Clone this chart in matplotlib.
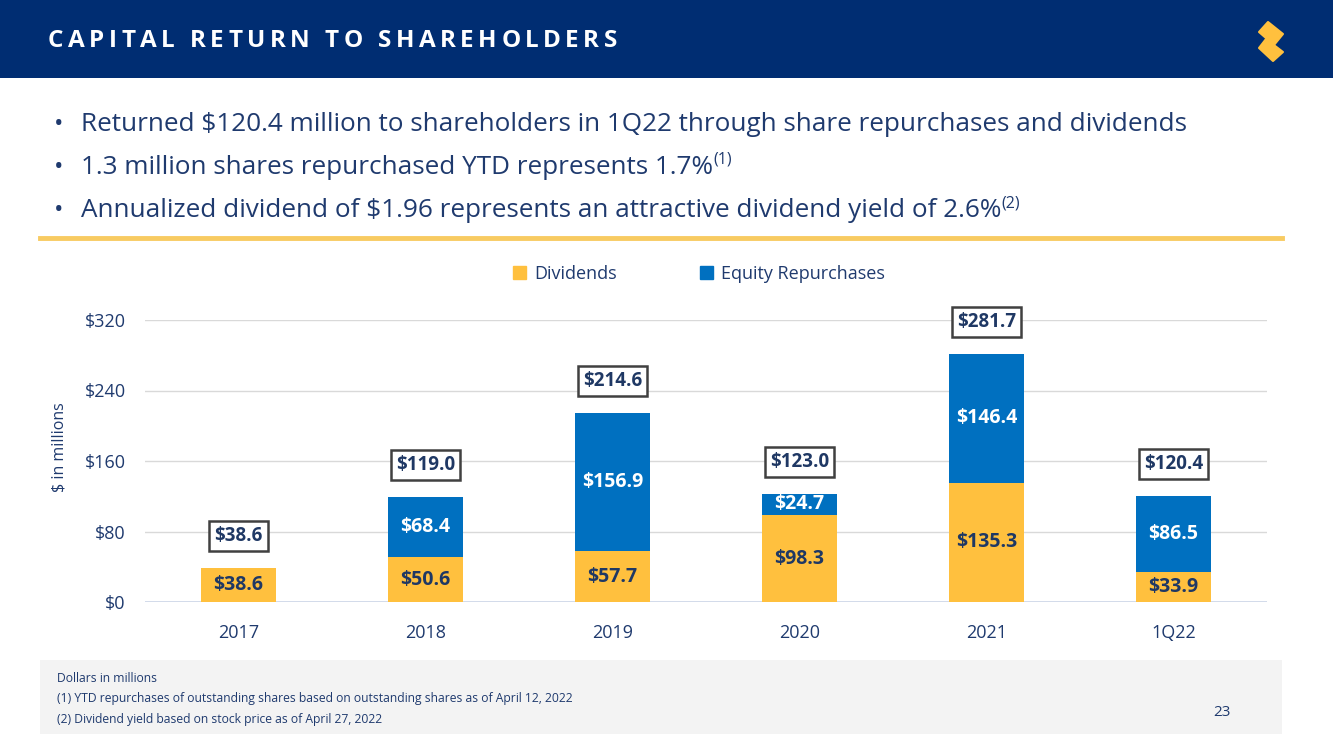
import matplotlib
matplotlib.use("Agg")
import matplotlib.pyplot as plt
from matplotlib.patches import Rectangle, Polygon
from matplotlib.lines import Line2D

plt.rcParams['font.family'] = ['Open Sans', 'DejaVu Sans']

# data
categories = ['2017', '2018', '2019', '2020', '2021', '1Q22']
dividends = [38.6, 50.6, 57.7, 98.3, 135.3, 33.9]
repurchases = [0.0, 68.4, 156.9, 24.7, 146.4, 86.5]
totals = [38.6, 119.0, 214.6, 123.0, 281.7, 120.4]
yticks = [0, 80, 160, 240, 320]

NAVY = '#002D72'
TEXT = '#1F3A6E'
YELLOW = '#FFC03E'
BLUE = '#0070C0'

W, H = 1333, 749
fig = plt.figure(figsize=(W / 100, H / 100), dpi=100)
fig.patch.set_facecolor('white')


def px(x, y):
    # pixel (from top-left) -> figure fraction
    return x / W, 1 - y / H


# header band
fig.patches.append(Rectangle(px(0, 78), 1, 78 / H, transform=fig.transFigure,
                             facecolor=NAVY, edgecolor='none', zorder=0))

renderer = fig.canvas.get_renderer()


def spaced_text(s, x0, x1, y, **kw):
    # lay out characters one by one so the title fills x0..x1 (letter spacing)
    widths = []
    for ch in s:
        t = fig.text(0, 0, ch if ch != ' ' else 'n', **kw)
        widths.append(t.get_window_extent(renderer).width * (0.4 if ch == ' ' else 1))
        t.remove()
    track = (x1 - x0 - sum(widths)) / (len(s) - 1)
    x = x0
    for ch, w in zip(s, widths):
        if ch != ' ':
            fig.text(*px(x, y), ch, va='center', ha='left', **kw)
        x += w + track


spaced_text('CAPITAL RETURN TO SHAREHOLDERS', 48, 617, 41,
            fontsize=17.5, fontweight='bold', color='white')

# logo: two slanted yellow strokes
logo1 = [(1259, 32), (1268, 22), (1283, 34), (1274, 45)]
logo2 = [(1259, 48), (1266, 39), (1283, 52), (1273, 61)]
for pts in (logo1, logo2):
    fig.patches.append(Polygon([px(a, b) for a, b in pts], closed=True,
                               transform=fig.transFigure, facecolor='#FFC03E',
                               edgecolor='#FFC03E', lw=1.5, joinstyle='round'))


def run_text(pieces, x, y):
    # draw text pieces left to right; each piece is (text, size, raise_px)
    for s, size, dy in pieces:
        t = fig.text(*px(x, y - dy), s, fontsize=size, color=TEXT,
                     va='baseline', ha='left')
        x += t.get_window_extent(renderer).width


bullets = [
    [('Returned $120.4 million to shareholders in 1Q22 through share repurchases and dividends', 18.8, 0)],
    [('1.3 million shares repurchased YTD represents 1.7%', 18.8, 0), ('(1)', 11.5, 10)],
    [('Annualized dividend of $1.96 represents an attractive dividend yield of 2.6%', 18.8, 0), ('(2)', 11.5, 10)],
]
for i, pieces in enumerate(bullets):
    yb = 131 + i * 43
    fig.text(*px(54, yb), '•', fontsize=18, color=TEXT, va='baseline')
    run_text(pieces, 81, yb)

# yellow rule
fig.add_artist(Line2D([40 / W, 1282 / W], [1 - 238 / H] * 2, transform=fig.transFigure,
                      color='#F8CB62', lw=3.5))

# chart
ax = fig.add_axes([145 / W, 1 - 602 / H, 1122 / W, 282 / H])
x = range(len(categories))
ax.bar(x, dividends, width=0.405, color=YELLOW, zorder=2)
ax.bar(x, repurchases, bottom=dividends, width=0.405, color=BLUE, zorder=2)

for i in x:
    ax.text(i, dividends[i] / 2, f'${dividends[i]:.1f}', ha='center', va='center',
            fontsize=14, fontweight='bold', color='#1F3864', zorder=3)
    if repurchases[i] > 0:
        ax.text(i, dividends[i] + repurchases[i] / 2, f'${repurchases[i]:.1f}',
                ha='center', va='center', fontsize=14, fontweight='bold',
                color='white', zorder=3)
    ax.annotate(f'${totals[i]:.1f}', (i, totals[i]), xytext=(0, 23),
                textcoords='offset points', ha='center', va='center',
                fontsize=13.5, fontweight='bold', color='#1F3864', annotation_clip=False,
                bbox=dict(boxstyle='square,pad=0.27', fc='white', ec='#404040', lw=1.8))

ax.set_xlim(-0.5, len(categories) - 0.5)
ax.set_ylim(0, 320)
ax.set_yticks(yticks)
ax.set_yticklabels([f'${v}' for v in yticks])
ax.set_xticks(list(x))
ax.set_xticklabels(categories)
ax.tick_params(length=0, labelsize=13, labelcolor=TEXT)
ax.tick_params(axis='y', pad=14)
ax.tick_params(axis='x', pad=16)
ax.grid(axis='y', color='#D9D9D9', lw=1, zorder=0)
for s in ax.spines.values():
    s.set_visible(False)
ax.axhline(0, color='#C9D5EC', lw=1.2, zorder=1)
ax.set_ylabel('$ in millions', fontsize=11.5, color=TEXT)
ax.yaxis.set_label_coords(-0.069, 0.55)

fig.legend([Rectangle((0, 0), 1, 1, color=YELLOW), Rectangle((0, 0), 1, 1, color=BLUE)],
           ['Dividends', 'Equity Repurchases'], loc='center',
           bbox_to_anchor=(699 / W, 1 - 274 / H), ncol=2, frameon=False,
           handlelength=0.7, handleheight=0.7, handletextpad=0.45, columnspacing=4.6,
           fontsize=13, labelcolor=TEXT)

# footer notes
fig.patches.append(Rectangle(px(40, 734), 1242 / W, 74 / H, transform=fig.transFigure,
                             facecolor='#F3F3F3', edgecolor='none', zorder=0))
notes = ['Dollars in millions',
         '(1) YTD repurchases of outstanding shares based on outstanding shares as of April 12, 2022',
         '(2) Dividend yield based on stock price as of April 27, 2022']
for i, n in enumerate(notes):
    fig.text(*px(57, 678 + i * 20.5), n, fontsize=8.7, color=TEXT, va='center')
fig.text(*px(1231, 713), '23', fontsize=11, color=TEXT, va='center', ha='right')

fig.savefig('out.png', dpi=100)
